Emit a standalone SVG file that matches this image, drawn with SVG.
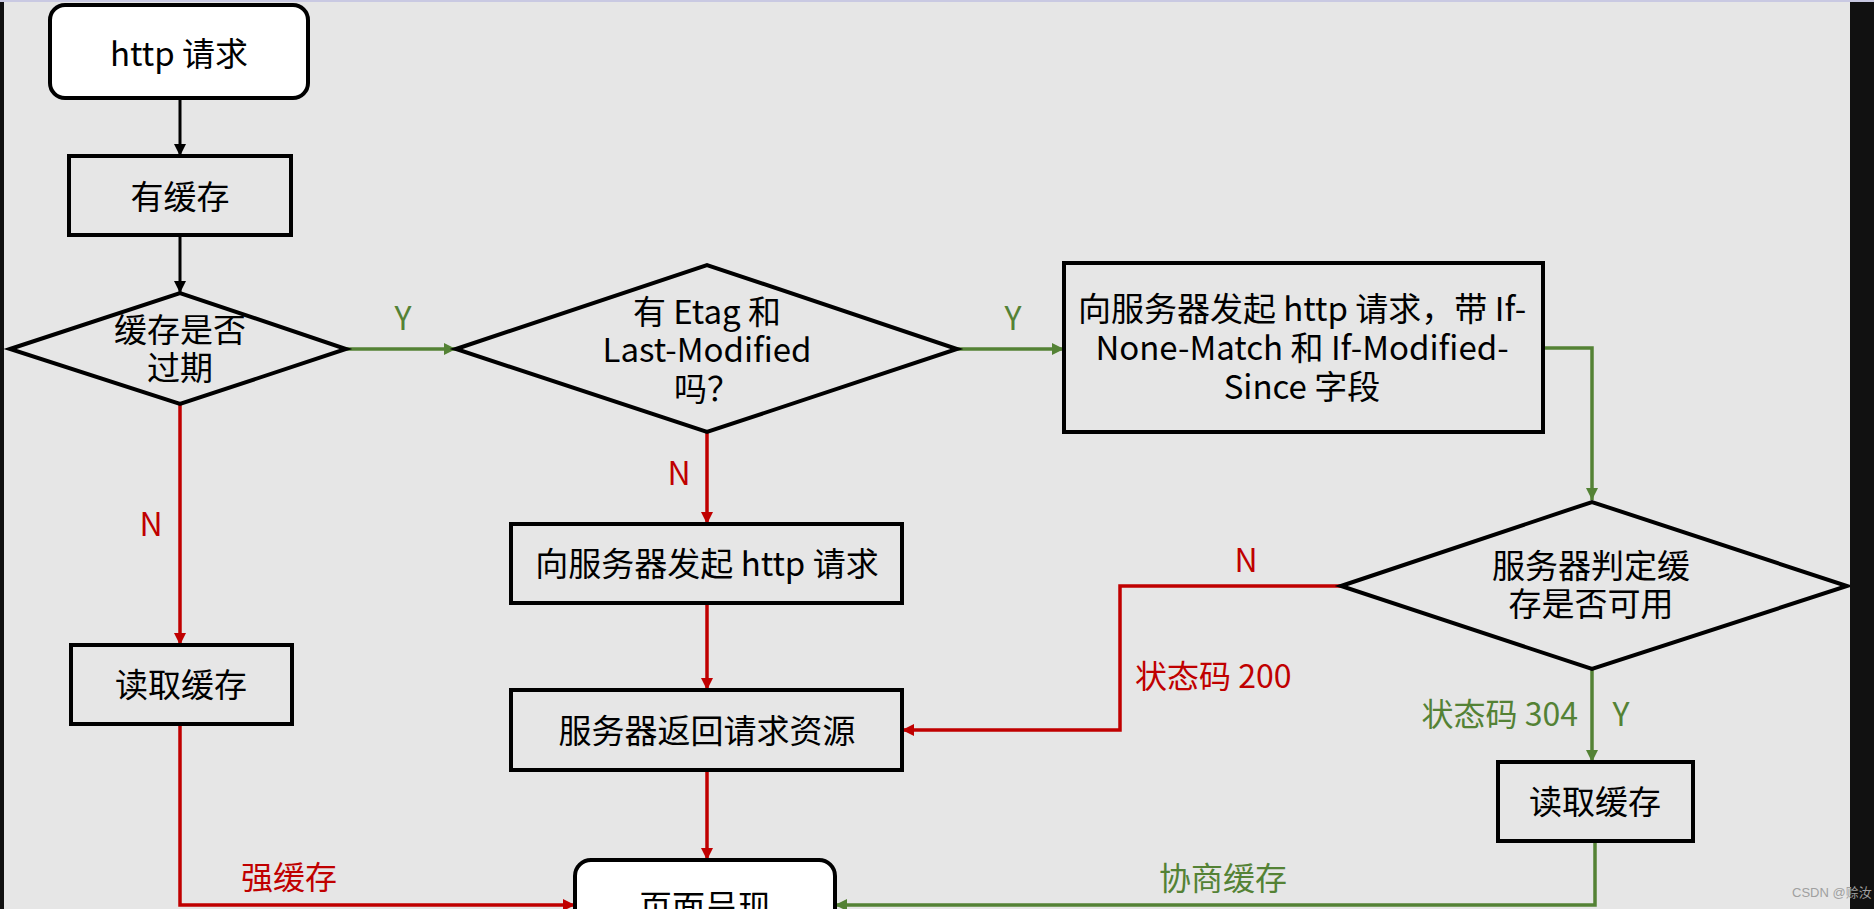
<svg xmlns="http://www.w3.org/2000/svg" width="1874" height="909" viewBox="0 0 1874 909">
<style>
.node{fill:none;stroke:#000;stroke-width:4}
.term{fill:#fff;stroke:#000;stroke-width:4}
.t{font-family:"Noto Sans CJK SC","Noto Sans",sans-serif;font-size:33px;fill:#000;text-anchor:middle}
.lb{font-family:"Noto Sans CJK SC","Noto Sans",sans-serif;font-size:32px}
.k{fill:none;stroke:#000;stroke-width:3}
.r{fill:none;stroke:#c00000;stroke-width:3.5}
.g{fill:none;stroke:#548235;stroke-width:3.5}
.rt{fill:#c00000}
.gt{fill:#548235}
</style>
<defs>
<marker id="ak" viewBox="0 0 12 12" refX="12" refY="6" markerWidth="12" markerHeight="12" markerUnits="userSpaceOnUse" orient="auto"><path d="M0,0 L12,6 L0,12 z" fill="#000"/></marker>
<marker id="ar" viewBox="0 0 12 12" refX="12" refY="6" markerWidth="12" markerHeight="12" markerUnits="userSpaceOnUse" orient="auto"><path d="M0,0 L12,6 L0,12 z" fill="#c00000"/></marker>
<marker id="ag" viewBox="0 0 12 12" refX="12" refY="6" markerWidth="12" markerHeight="12" markerUnits="userSpaceOnUse" orient="auto"><path d="M0,0 L12,6 L0,12 z" fill="#548235"/></marker>
</defs>
<rect x="0" y="0" width="1874" height="909" fill="#e6e6e6"/>
<rect x="0" y="0" width="1874" height="2" fill="#c9c9e2"/>

<g id="connectors">
<path class="k" d="M180,98 V156" marker-end="url(#ak)"/>
<path class="k" d="M180,235 V293" marker-end="url(#ak)"/>
<path class="g" d="M346,349 H456" marker-end="url(#ag)"/>
<path class="g" d="M957,349 H1064" marker-end="url(#ag)"/>
<path class="r" d="M180,404 V645" marker-end="url(#ar)"/>
<path class="r" d="M707,432 V524" marker-end="url(#ar)"/>
<path class="r" d="M707,603 V690" marker-end="url(#ar)"/>
<path class="r" d="M707,770 V860" marker-end="url(#ar)"/>
<path class="r" d="M180,724 V905 H575" marker-end="url(#ar)"/>
<path class="g" d="M1543,348 H1592 V500" marker-end="url(#ag)"/>
<path class="r" d="M1341,586 H1120 V730 H902" marker-end="url(#ar)"/>
<path class="g" d="M1592,669 V762" marker-end="url(#ag)"/>
<path class="g" d="M1595,841 V905 H835" marker-end="url(#ag)"/>
<text class="lb gt" x="403" y="330" text-anchor="middle">Y</text>
<text class="lb gt" x="1013" y="330" text-anchor="middle">Y</text>
<text class="lb rt" x="151" y="536" text-anchor="middle">N</text>
<text class="lb rt" x="679" y="485" text-anchor="middle">N</text>
<text class="lb rt" x="1246" y="572" text-anchor="middle">N</text>
<text class="lb rt" x="1135" y="688">状态码 200</text>
<text class="lb gt" x="1578" y="726" text-anchor="end">状态码 304</text>
<text class="lb gt" x="1621" y="726" text-anchor="middle">Y</text>
<text class="lb rt" x="289" y="889" text-anchor="middle">强缓存</text>
<text class="lb gt" x="1223" y="890" text-anchor="middle">协商缓存</text>
</g>

<g id="start">
<rect class="term" x="50" y="5" width="258" height="93" rx="15"/>
<text class="t" x="179" y="66">http 请求</text>
</g>
<g id="hasCache">
<rect class="node" x="69" y="156" width="222" height="79"/>
<text class="t" x="180" y="209">有缓存</text>
</g>
<g id="expired">
<polygon class="node" points="10,349 180,293 346,349 180,404"/>
<text class="t" x="180" y="342">缓存是否</text>
<text class="t" x="180" y="380">过期</text>
</g>
<g id="hasEtag">
<polygon class="node" points="456,349 707,265 957,349 707,432"/>
<text class="t" x="707" y="324">有 Etag 和</text>
<text class="t" x="707" y="362">Last-Modified</text>
<text class="t" x="707" y="401">吗？</text>
</g>
<g id="request">
<rect class="node" x="511" y="524" width="391" height="79"/>
<text class="t" x="707" y="576">向服务器发起 http 请求</text>
</g>
<g id="conditionalRequest">
<rect class="node" x="1064" y="263" width="479" height="169"/>
<text class="t" x="1302" y="321">向服务器发起 http 请求，带 If-</text>
<text class="t" x="1302" y="360">None-Match 和 If-Modified-</text>
<text class="t" x="1302" y="399">Since 字段</text>
</g>
<g id="serverReturn">
<rect class="node" x="511" y="690" width="391" height="80"/>
<text class="t" x="707" y="743">服务器返回请求资源</text>
</g>
<g id="readCache1">
<rect class="node" x="71" y="645" width="221" height="79"/>
<text class="t" x="181" y="697">读取缓存</text>
</g>
<g id="serverCheck">
<polygon class="node" points="1341,586 1592,502 1847,586 1592,669"/>
<text class="t" x="1591" y="578">服务器判定缓</text>
<text class="t" x="1591" y="616">存是否可用</text>
</g>
<g id="readCache2">
<rect class="node" x="1498" y="762" width="195" height="79"/>
<text class="t" x="1595" y="814">读取缓存</text>
</g>
<g id="render">
<rect class="term" x="575" y="860" width="260" height="80" rx="16"/>
<text class="t" x="705" y="919">页面呈现</text>
</g>

<rect x="0" y="2" width="4" height="907" fill="#111"/>
<rect x="1850" y="2" width="24" height="907" fill="#111"/>
<text x="1792" y="897" font-family="'Liberation Sans','Noto Sans CJK SC',sans-serif" font-size="13" fill="#a0a0a0">CSDN @赊汝</text>
</svg>
